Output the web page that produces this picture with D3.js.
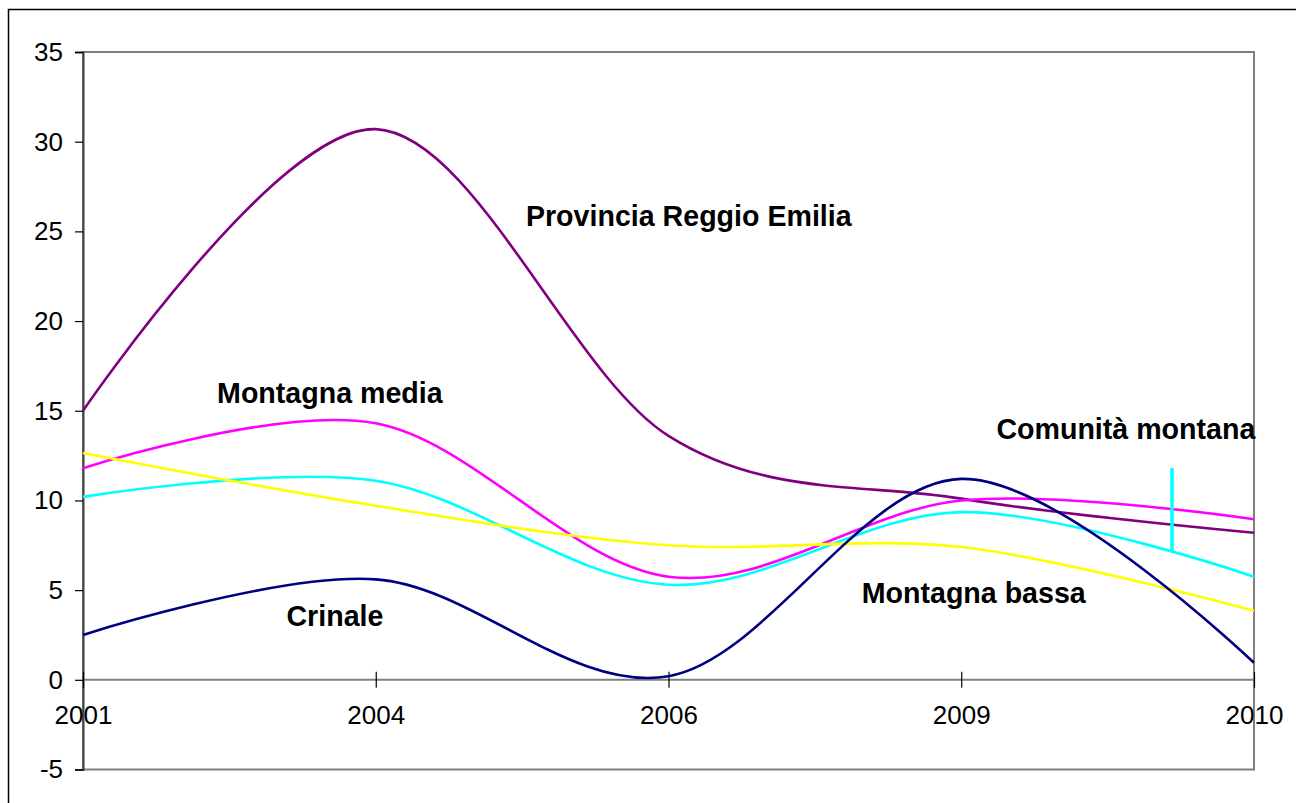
<!DOCTYPE html>
<html><head><meta charset="utf-8">
<script src="https://cdn.jsdelivr.net/npm/d3@7"></script>
<style>body{margin:0;background:#fff}svg{display:block;font-family:Arial,"Liberation Sans",sans-serif}</style>
</head><body>
<script>
const categories = ["2001","2004","2006","2009","2010"];
const provincia = [15.0, 30.7, 13.6, 10.1, 8.2];
const montagnaMedia = [11.8, 14.3, 5.75, 10.0, 8.95];
const comunitaMontana = [10.2, 11.1, 5.3, 9.35, 5.75];
const montagnaBassa = [12.65, 9.7, 7.5, 7.4, 3.85];
const crinale = [2.5, 5.6, 0.2, 11.2, 0.95];
const yTicks = [-5,0,5,10,15,20,25,30,35];
const seriesNames = ["Provincia Reggio Emilia","Montagna media","Comunità montana","Montagna bassa","Crinale"];
const seriesColors = ["#800080","#ff00ff","#00ffff","#ffff00","#000080"];
const seriesValues = [provincia, montagnaMedia, comunitaMontana, montagnaBassa, crinale];
// label anchor: [category index (fractional), value]
const labelAnchors = [[1.513, 25.3],[0.458, 15.45],[3.12, 13.4],[2.66, 4.3],[0.695, 3.0]];
// leader marker for Comunità montana
const leaderCat = 3.72, leaderFrom = 11.8, leaderTo = 7.15;

const W = 1296, H = 803;
const svg = d3.select("body").append("svg").attr("width", W).attr("height", H);
svg.append("rect").attr("x",8.5).attr("y",9.5).attr("width",W).attr("height",H).attr("fill","#fff").attr("stroke","#000").attr("stroke-width",1.5);

const L = 83, R = 1254, T = 52, B = 769.5;
const x = d3.scalePoint().domain(categories).range([L, R]);
const xi = d3.scaleLinear().domain([0, categories.length-1]).range([L, R]);
const y = d3.scaleLinear().domain([-5, 35]).range([B, T]);

// plot frame
svg.append("rect").attr("x",L).attr("y",T).attr("width",R-L).attr("height",B-T)
  .attr("fill","none").attr("stroke","#808080").attr("stroke-width",2);
// zero line
svg.append("line").attr("x1",L).attr("x2",R).attr("y1",y(0)).attr("y2",y(0)).attr("stroke","#808080").attr("stroke-width",2);

// y axis
const yAxis = svg.append("g").attr("transform",`translate(${L},0)`)
  .call(d3.axisLeft(y).tickValues(yTicks).tickSize(8).tickPadding(12).tickFormat(d=>String(d)));
yAxis.select(".domain").attr("stroke","#404040").attr("stroke-width",2);
yAxis.selectAll(".tick line").attr("stroke","#000").attr("stroke-width",1.2);
yAxis.selectAll("text").attr("font-size",26).attr("fill","#000").attr("font-family","Arial, 'Liberation Sans', sans-serif");

// x axis on zero line
const xAxis = svg.append("g").attr("transform",`translate(0,${y(0)})`)
  .call(d3.axisBottom(x).tickSize(8).tickPadding(18));
xAxis.select(".domain").remove();
xAxis.selectAll(".tick line").attr("y1",-8).attr("stroke","#000").attr("stroke-width",1.2);
xAxis.selectAll("text").attr("font-size",26).attr("fill","#000").attr("font-family","Arial, 'Liberation Sans', sans-serif");

// lines
const line = d3.line().x((d,i)=>x(categories[i])).y(d=>y(d)).curve(d3.curveCardinal.tension(0));
seriesValues.forEach((vals,k)=>{
  svg.append("path").datum(vals).attr("d",line).attr("fill","none")
    .attr("stroke",seriesColors[k]).attr("stroke-width",2.6);
});

// leader
svg.append("line").attr("x1",xi(leaderCat)).attr("x2",xi(leaderCat))
  .attr("y1",y(leaderFrom)).attr("y2",y(leaderTo)).attr("stroke","#00ffff").attr("stroke-width",3.5);

// labels
seriesNames.forEach((n,k)=>{
  svg.append("text").attr("x",xi(labelAnchors[k][0])).attr("y",y(labelAnchors[k][1]))
    .attr("font-size",28.6).attr("font-weight","bold").attr("fill","#000").text(n);
});
</script>
</body></html>
